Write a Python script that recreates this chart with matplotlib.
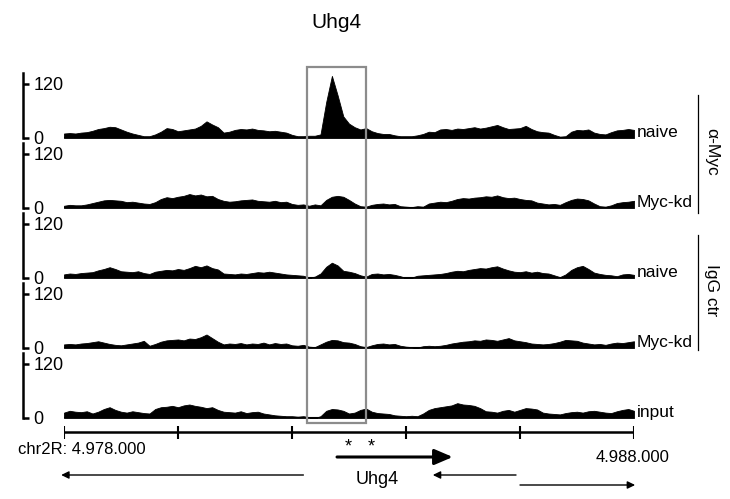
import numpy as np
import matplotlib
matplotlib.use("Agg")
import matplotlib.pyplot as plt
from matplotlib.patches import Rectangle
from matplotlib.lines import Line2D
from matplotlib.transforms import blended_transform_factory

plt.rcParams["font.family"] = ["Liberation Sans", "DejaVu Sans"]

# genomic window (chr2R), 100 bp bins
region_start = 4978000
region_end = 4988000
bin_size = 100

track_names = ["naive", "Myc-kd", "naive", "Myc-kd", "input"]

myc_naive = [10, 11, 10, 12, 13, 16, 20, 22, 25, 24, 19, 14, 10, 7, 4, 4, 8, 14, 22, 20,
             15, 17, 19, 21, 27, 37, 30, 24, 12, 14, 18, 20, 19, 21, 18, 17, 15, 16, 14, 12,
             7, 4, 4, 5, 5, 8, 80, 138, 95, 48, 32, 24, 19, 22, 15, 11, 9, 9, 6, 4,
             4, 4, 6, 9, 14, 13, 19, 20, 18, 21, 20, 22, 24, 21, 23, 26, 29, 24, 20, 21,
             22, 27, 20, 15, 13, 12, 7, 3, 4, 14, 18, 17, 19, 12, 9, 8, 13, 17, 18, 20, 18]
myc_kd = [5, 7, 6, 6, 8, 11, 14, 17, 18, 17, 16, 13, 14, 12, 10, 9, 13, 20, 24, 22,
          25, 27, 31, 28, 30, 26, 27, 20, 16, 14, 15, 17, 18, 19, 16, 15, 14, 16, 13, 14,
          9, 7, 8, 5, 8, 6, 18, 25, 27, 25, 18, 10, 4, 3, 7, 9, 10, 8, 9, 4,
          3, 2, 4, 3, 10, 12, 14, 13, 16, 20, 22, 21, 23, 24, 26, 25, 28, 24, 22, 23,
          20, 18, 17, 12, 10, 8, 9, 7, 13, 18, 21, 20, 17, 10, 4, 3, 6, 11, 13, 14, 16]
igg_naive = [8, 10, 9, 11, 12, 13, 17, 20, 24, 20, 15, 14, 13, 15, 11, 9, 14, 16, 18, 17,
             20, 18, 22, 27, 24, 28, 22, 19, 10, 9, 8, 10, 9, 11, 13, 12, 14, 12, 10, 8,
             7, 6, 5, 1, 3, 10, 25, 34, 28, 16, 14, 11, 6, 3, 9, 10, 8, 9, 7, 4,
             0, 1, 5, 6, 7, 8, 9, 11, 14, 16, 15, 18, 20, 22, 21, 24, 26, 21, 17, 14,
             13, 15, 12, 14, 11, 10, 6, 2, 8, 18, 24, 27, 20, 12, 9, 7, 6, 4, 8, 9, 7]
igg_kd = [8, 9, 8, 10, 11, 13, 15, 12, 9, 7, 6, 8, 10, 12, 16, 5, 9, 14, 17, 18,
          19, 17, 21, 20, 24, 30, 22, 14, 8, 10, 9, 11, 8, 10, 9, 12, 8, 11, 9, 10,
          6, 5, 7, 3, 2, 8, 14, 18, 17, 13, 12, 9, 4, 2, 6, 9, 10, 8, 9, 5,
          3, 2, 1, 4, 5, 4, 5, 7, 10, 12, 14, 15, 17, 16, 19, 18, 16, 19, 22, 17,
          15, 13, 10, 9, 8, 9, 11, 14, 18, 17, 16, 12, 10, 8, 9, 7, 10, 12, 11, 13, 15]
input_dna = [12, 16, 14, 13, 15, 10, 14, 20, 24, 18, 14, 12, 15, 13, 11, 10, 20, 24, 25, 27,
             24, 28, 30, 27, 25, 22, 24, 18, 14, 13, 12, 15, 11, 13, 14, 10, 8, 6, 5, 4,
             4, 3, 4, 2, 0, 4, 16, 20, 19, 16, 10, 12, 18, 21, 14, 11, 10, 9, 6, 5,
             4, 5, 4, 10, 18, 22, 24, 26, 28, 33, 30, 29, 27, 22, 15, 14, 12, 16, 18, 14,
             18, 22, 21, 19, 12, 10, 9, 8, 11, 13, 14, 12, 15, 16, 14, 12, 11, 15, 18, 20, 16]
tracks = [myc_naive, myc_kd, igg_naive, igg_kd, input_dna]

y_ticks = [0, 120]
scale_ticks = [4978000, 4980000, 4982000, 4984000, 4986000, 4988000]

# highlighted peak region and gene annotations
box_start, box_end = 4982260, 4983300
uhg4_gene = (4982790, 4984820)
asterisks = [4982980, 4983390]
left_genes = [(4982200, 4977950), (4985930, 4984470)]
right_genes = [(4986000, 4988020)]

W, H = 730, 499
fig = plt.figure(figsize=(W / 100, H / 100), dpi=100)


def fx(px):
    return px / W


def fy(py):
    return 1 - py / H


left_px, right_px = 64, 634
track_h = 70
ymax = track_h * 120 / 54
positions = region_start + bin_size * np.arange(len(myc_naive))

axes = []
for i, (vals, name) in enumerate(zip(tracks, track_names)):
    base = 138 + track_h * i
    ax = fig.add_axes([fx(left_px), fy(base), fx(right_px) - fx(left_px), track_h / H])
    ax.fill_between(positions, 0, vals, color="black", lw=0.6, edgecolor="black")
    ax.axhline(0, color="black", lw=1.5)
    ax.set_xlim(region_start, region_end)
    ax.set_ylim(0, ymax)
    for s in ["top", "right", "bottom"]:
        ax.spines[s].set_visible(False)
    ax.spines["left"].set_position(("outward", 41 * 0.72))
    ax.spines["left"].set_bounds(0, 144)
    ax.spines["left"].set_linewidth(1.8)
    ax.set_xticks([])
    ax.set_yticks(y_ticks)
    ax.tick_params(axis="y", direction="in", length=4, width=1.8, pad=-7.5, labelsize=13)
    for t in ax.get_yticklabels():
        t.set_horizontalalignment("left")
    ax.patch.set_alpha(0)
    tr = blended_transform_factory(ax.transAxes, ax.transData)
    ax.text(1.005, 13, name, transform=tr, ha="left", va="center", fontsize=12.5)
    axes.append(ax)

# grey box over the peak region
box_tr = blended_transform_factory(axes[0].transData, fig.transFigure)
fig.add_artist(Rectangle((box_start, fy(423)), box_end - box_start, (423 - 67) / H,
                         transform=box_tr, fill=False, edgecolor="#8c8c8c", lw=1.6, zorder=5))

# group brackets on the right
for y0, y1, label in [(95, 213, "\u03b1-Myc"), (235, 350, "IgG ctr")]:
    fig.add_artist(Line2D([fx(698), fx(698)], [fy(y0), fy(y1)], color="black", lw=0.9))
    fig.text(fx(712), fy((y0 + y1) / 2 - 2), label, rotation=270, ha="center", va="center",
             fontsize=12.5)

fig.text(fx(336), fy(22), "Uhg4", ha="center", va="center", fontsize=15)

# coordinate scale and genes
gax = fig.add_axes([fx(left_px), 0, fx(right_px) - fx(left_px), fy(420)])
gax.set_xlim(region_start, region_end)
gax.set_ylim(0, 79)
gax.axis("off")
bar_y = 67
gax.plot([region_start, region_end], [bar_y, bar_y], color="black", lw=1.8, solid_capstyle="butt")
gax.vlines(scale_ticks, bar_y - 6.5, bar_y + 6.5, color="black", lw=1.5)

for x in asterisks:
    gax.text(x, 52, "*", ha="center", va="center", fontsize=13)

gax.annotate("", xy=(uhg4_gene[1], 42), xytext=(uhg4_gene[0], 42), annotation_clip=False,
             arrowprops=dict(arrowstyle="-|>,head_length=11,head_width=4.7", mutation_scale=1,
                             lw=2.2, color="black", shrinkA=0, shrinkB=0))
gax.text(4983490, 19, "Uhg4", ha="center", va="center", fontsize=13)

for start, end in left_genes:
    gax.annotate("", xy=(end, 24), xytext=(start, 24), annotation_clip=False,
                 arrowprops=dict(arrowstyle="-|>,head_length=4.5,head_width=2.2", mutation_scale=1,
                                 lw=1.0, color="black", shrinkA=0, shrinkB=0))
for start, end in right_genes:
    gax.annotate("", xy=(end, 14), xytext=(start, 14), annotation_clip=False,
                 arrowprops=dict(arrowstyle="-|>,head_length=4.5,head_width=2.2", mutation_scale=1,
                                 lw=1.0, color="black", shrinkA=0, shrinkB=0))

fig.text(fx(18), fy(450), "chr2R: 4.978.000", ha="left", va="center", fontsize=12)
fig.text(fx(669), fy(458), "4.988.000", ha="right", va="center", fontsize=12)

fig.savefig("out.png", dpi=100)
